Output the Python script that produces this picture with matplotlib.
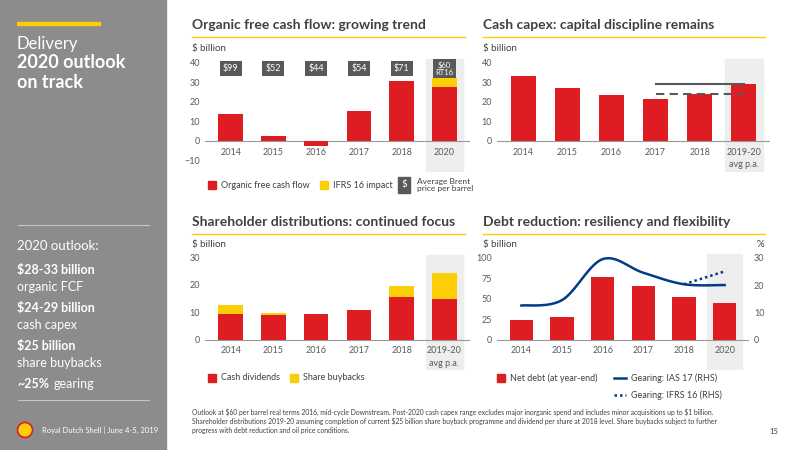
import matplotlib
matplotlib.use("Agg")
import matplotlib.pyplot as plt
from matplotlib.patches import Rectangle, Ellipse
import numpy as np

plt.rcParams['font.family'] = ['Lato', 'DejaVu Sans']

RED = '#dd1d21'; YEL = '#fbce07'; DG = '#595959'; NAVY = '#003c88'; TXT = '#404040'; LT = '#595959'; BAND = '#eeeeee'

fcf_years = ['2014', '2015', '2016', '2017', '2018', '2020']
fcf_vals = [13.5, 2.5, -2.5, 15.5, 30.5, 27.5]
fcf_ifrs = [0, 0, 0, 0, 0, 4.5]
brent = ['$99', '$52', '$44', '$54', '$71', '$60\nRT16']

capex_years = ['2014', '2015', '2016', '2017', '2018', '2019-20\navg p.a.']
capex_vals = [33, 27, 23.5, 21.5, 24, 29]
capex_hi = 29; capex_lo = 24

dist_years = ['2014', '2015', '2016', '2017', '2018', '2019-20\navg p.a.']
dividends = [9.5, 9.2, 9.5, 10.8, 15.5, 14.7]
buybacks = [3.3, 0.5, 0, 0, 4.0, 9.5]

debt_years = ['2014', '2015', '2016', '2017', '2018', '2020']
net_debt = [24, 28, 77, 66, 52, 45]
gearing = [12.5, 14.5, 29.5, 24.5, 20.3, 20.0]
gearing_ifrs = [20.3, 25.0]

W, H = 800, 450
fig = plt.figure(figsize=(8, 4.5), dpi=100)
fig.patch.set_facecolor('white')

def fx(px): return px / W
def fy(py): return 1 - py / H

# left panel
fig.patches.append(Rectangle((0, 0), fx(166), 1, transform=fig.transFigure, color='#8c8c8c', zorder=0))
fig.patches.append(Rectangle((fx(17), fy(25)), fx(83), 3 / H, transform=fig.transFigure, color=YEL, zorder=1))
fig.text(fx(17), fy(44), 'Delivery', color='white', fontsize=12, va='center')
fig.text(fx(17), fy(63), '2020 outlook', color='white', fontsize=13, va='center', fontweight='bold')
fig.text(fx(17), fy(82), 'on track', color='white', fontsize=13, va='center', fontweight='bold')
for y in (225, 400):
    fig.add_artist(plt.Line2D([fx(18), fx(149)], [fy(y), fy(y)], color='#c8c8c8', lw=0.8))
fig.text(fx(17), fy(246), '2020 outlook:', color='white', fontsize=9.5, va='center')
items = [('\\$28-33 billion', 'organic FCF', 270), ('\\$24-29 billion', 'cash capex', 308), ('\\$25 billion', 'share buybacks', 346)]
for b, t, y in items:
    fig.text(fx(17), fy(y), b, color='white', fontsize=9, va='center', fontweight='bold')
    fig.text(fx(17), fy(y + 17), t, color='white', fontsize=9, va='center')
fig.text(fx(17), fy(384), '~25%', color='white', fontsize=9, va='center', fontweight='bold')
fig.text(fx(54), fy(384), 'gearing', color='white', fontsize=9, va='center')
fig.patches.append(Ellipse((fx(25), fy(430)), 15 / W, 15 / H, transform=fig.transFigure, fc=YEL, ec=RED, lw=1.2, zorder=2))
fig.text(fx(42), fy(430), 'Royal Dutch Shell | June 4-5, 2019', color='white', fontsize=5.5, va='center')

def header(x0, x1, y, title):
    fig.text(fx(x0), fy(y), title, fontsize=10, fontweight='bold', color=TXT, va='center')
    fig.add_artist(plt.Line2D([fx(x0), fx(x1)], [fy(y + 12), fy(y + 12)], color=YEL, lw=1))
    fig.text(fx(x0), fy(y + 23), '\\$ billion', fontsize=7, color=TXT, va='center')

header(192, 465, 25, 'Organic free cash flow: growing trend')
header(483, 765, 25, 'Cash capex: capital discipline remains')
header(192, 465, 222, 'Shareholder distributions: continued focus')
header(483, 765, 222, 'Debt reduction: resiliency and flexibility')
fig.text(fx(757), fy(245), '%', fontsize=7, color=TXT, va='center')

def mkax(l, r, t, b):
    ax = fig.add_axes([fx(l), fy(b), fx(r - l), (b - t) / H])
    for s in ax.spines.values(): s.set_visible(False)
    ax.tick_params(length=0, labelsize=6.5, labelcolor=LT)
    ax.set_facecolor('none')
    return ax

def style(ax, n, labels, lab_y, band_lo, band_hi):
    ax.set_xlim(-0.6, n - 0.4)
    ax.axhline(0, color='#999999', lw=0.8, zorder=1)
    ax.add_patch(Rectangle((n - 1.43, band_lo), 0.86, band_hi - band_lo, color=BAND, zorder=0))
    ax.set_xticks([])
    for i, l in enumerate(labels):
        ax.text(i, lab_y, l, ha='center', va='top', fontsize=6.5, color=LT, linespacing=1.5)

x = np.arange(6)

# chart 1
ax1 = mkax(205, 470, 55, 172)
ax1.set_ylim(-16, 44)
ax1.set_yticks([-10, 0, 10, 20, 30, 40])
style(ax1, 6, fcf_years, -3.5, -16, 42)
ax1.bar(x, fcf_vals, 0.57, color=RED, zorder=2)
ax1.bar(x, fcf_ifrs, 0.57, bottom=fcf_vals, color=YEL, zorder=2)
for i, b in enumerate(brent):
    ax1.text(i, 37, b.replace('$', '\\$'), ha='center', va='center', fontsize=5.5 if '\n' in b else 6.5, color='white', linespacing=0.9,
             bbox=dict(boxstyle='square,pad=0.35', fc=DG, ec='none'), zorder=3)

def sq(px, py, c):
    fig.patches.append(Rectangle((fx(px), fy(py + 4)), 8 / W, 8 / H, transform=fig.transFigure, color=c))
sq(208, 185, RED); fig.text(fx(221), fy(185), 'Organic free cash flow', fontsize=6.5, color=TXT, va='center')
sq(320, 185, YEL); fig.text(fx(333), fy(185), 'IFRS 16 impact', fontsize=6.5, color=TXT, va='center')
fig.patches.append(Rectangle((fx(398), fy(193)), 12 / W, 16 / H, transform=fig.transFigure, color=DG))
fig.text(fx(404), fy(185), '\\$', fontsize=7, color='white', va='center', ha='center')
fig.text(fx(417), fy(185), 'Average Brent\nprice per barrel', fontsize=6, color=TXT, va='center', linespacing=1.1)

# chart 2
ax2 = mkax(497, 770, 55, 172)
ax2.set_ylim(-16, 44)
ax2.set_yticks([0, 10, 20, 30, 40])
style(ax2, 6, capex_years, -3.5, -16, 42)
ax2.bar(x, capex_vals, 0.57, color=RED, zorder=2)
ax2.plot([3, 5.0], [capex_hi, capex_hi], color=DG, lw=1.5, zorder=3)
ax2.plot([3, 5.0], [capex_lo, capex_lo], color=DG, lw=1.5, ls=(0, (4, 2.5)), zorder=3)

# chart 3
ax3 = mkax(205, 470, 252, 370)
ax3.set_ylim(-11, 32)
ax3.set_yticks([0, 10, 20, 30])
style(ax3, 6, dist_years, -2.3, -11, 31)
ax3.bar(x, dividends, 0.57, color=RED, zorder=2)
ax3.bar(x, buybacks, 0.57, bottom=dividends, color=YEL, zorder=2)
sq(208, 378, RED); fig.text(fx(221), fy(378), 'Cash dividends', fontsize=6.5, color=TXT, va='center')
sq(290, 378, YEL); fig.text(fx(303), fy(378), 'Share buybacks', fontsize=6.5, color=TXT, va='center')

# chart 4
ax4 = mkax(497, 749, 252, 370)
ax4.set_ylim(-37, 107)
ax4.set_yticks([0, 25, 50, 75, 100])
style(ax4, 6, debt_years, -7.5, -37, 104)
ax4.bar(x, net_debt, 0.57, color=RED, zorder=2)
ax5 = ax4.twinx()
for s in ax5.spines.values(): s.set_visible(False)
ax5.set_ylim(-11.1, 32.1)
ax5.set_yticks([0, 10, 20, 30])
ax5.tick_params(length=0, labelsize=6.5, labelcolor=LT)
def catmull(xs, ys, n=20):
    P = list(zip(xs, ys)); P = [P[0]] + P + [P[-1]]
    ox, oy = [], []
    for i in range(1, len(P) - 2):
        p0, p1, p2, p3 = map(np.array, (P[i - 1], P[i], P[i + 1], P[i + 2]))
        for t in np.linspace(0, 1, n, endpoint=False):
            pt = 0.5 * ((2 * p1) + (-p0 + p2) * t + (2 * p0 - 5 * p1 + 4 * p2 - p3) * t ** 2 + (-p0 + 3 * p1 - 3 * p2 + p3) * t ** 3)
            ox.append(pt[0]); oy.append(pt[1])
    ox.append(xs[-1]); oy.append(ys[-1])
    return ox, oy
cx, cy = catmull(list(x), gearing)
ax5.plot(cx, cy, color=NAVY, lw=1.8, zorder=4)
ax5.plot([4, 5], gearing_ifrs, color=NAVY, lw=1.8, ls=(0, (1, 1.2)), zorder=4)
sq(497, 378, RED); fig.text(fx(510), fy(378), 'Net debt (at year-end)', fontsize=6.5, color=TXT, va='center')
for y, ls, lab in ((378, '-', 'Gearing: IAS 17 (RHS)'), (395, (0, (1, 1.2)), 'Gearing: IFRS 16 (RHS)')):
    fig.add_artist(plt.Line2D([fx(614), fx(626)], [fy(y), fy(y)], color=NAVY, lw=1.8, ls=ls))
    fig.text(fx(631), fy(y), lab, fontsize=6.5, color=TXT, va='center')

fig.text(fx(192), fy(421), 'Outlook at \\$60 per barrel real terms 2016, mid-cycle Downstream. Post-2020 cash capex range excludes major inorganic spend and includes minor acquisitions up to \\$1 billion.\n'
         'Shareholder distributions 2019-20 assuming completion of current \\$25 billion share buyback programme and dividend per share at 2018 level. Share buybacks subject to further\n'
         'progress with debt reduction and oil price conditions.', fontsize=4.9, color=TXT, va='center', linespacing=1.25)
fig.text(fx(778), fy(431), '15', fontsize=5.5, color=TXT, va='center', ha='right')

fig.savefig('out.png', dpi=100, facecolor='white')
